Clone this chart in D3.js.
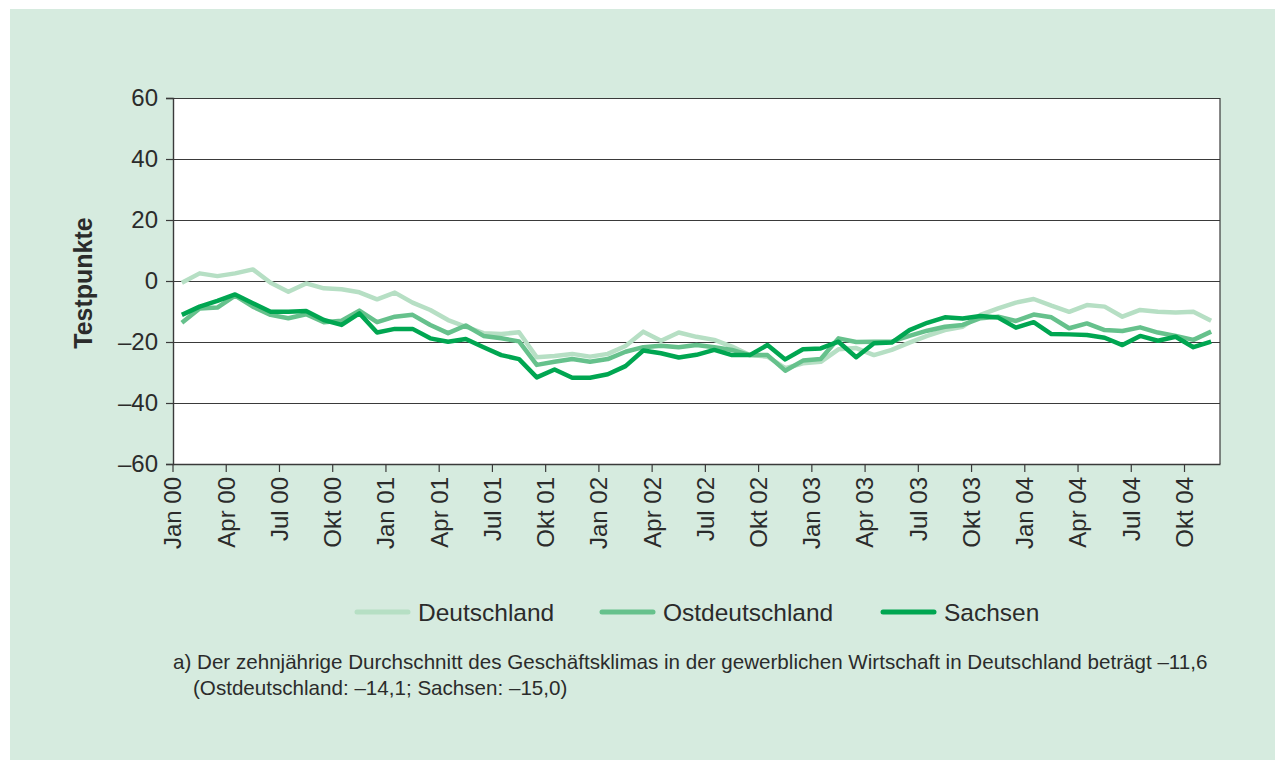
<!DOCTYPE html>
<html lang="de">
<head>
<meta charset="UTF-8" />
<title>Geschäftsklima</title>
<script src="https://cdn.jsdelivr.net/npm/d3@7/dist/d3.min.js"></script>
<style>
  body { margin: 0; background: #fff; }
  svg text { font-family: "Liberation Sans", Arial, Helvetica, sans-serif; fill: #2b2b2b; }
</style>
</head>
<body>
<svg class="svg" width="1281" height="765"></svg>
<script>
// Monate Jan 00 .. Nov 04
const years = ['00', '01', '02', '03', '04'];
const monthNames = ['Jan', 'Feb', 'Mär', 'Apr', 'Mai', 'Jun', 'Jul', 'Aug', 'Sep', 'Okt', 'Nov', 'Dez'];
const months = [];
years.forEach(y => monthNames.forEach(m => months.push(m + ' ' + y)));
months.length = 59;

const yTicks = [-60, -40, -20, 0, 20, 40, 60];

const deutschland = [
  -0.6, 2.5, 1.6, 2.5, 3.8, -0.6, -3.5, -0.8, -2.4, -2.7, -3.7, -6,
  -3.8, -7.1, -9.5, -12.8, -15, -17.1, -17.4, -16.8, -25, -24.6, -23.9, -24.8,
  -23.9, -21.3, -16.6, -19.6, -16.9, -18.3, -19.3, -21.5, -24.3, -24.8, -28.6, -27,
  -26.5, -22.4, -22, -24.3, -22.6, -20.2, -18, -16.1, -15, -11.1, -9, -7.1,
  -5.9, -8.1, -10.1, -7.9, -8.4, -11.7, -9.5, -10.1, -10.3, -10.1, -13
];
const ostdeutschland = [
  -13.7, -9, -8.7, -4.8, -8.4, -11.1, -12.2, -10.9, -13.5, -13, -9.7, -13.5,
  -11.7, -11.1, -14.4, -17.1, -14.6, -18, -18.8, -19.8, -27.5, -26.5, -25.6, -26.5,
  -25.6, -23.2, -21.7, -21.2, -21.7, -21, -21.7, -22.6, -24.3, -24.3, -29.4, -26.1,
  -25.6, -18.8, -20, -19.9, -19.9, -18, -16.3, -15, -14.4, -12.2, -11.7, -13.1,
  -11, -11.9, -15.5, -13.9, -16.1, -16.4, -15.2, -16.9, -18, -19.3, -16.6
];
const sachsen = [
  -11.1, -8.4, -6.5, -4.4, -7.3, -10.1, -10.1, -9.8, -12.8, -14.4, -10.6, -16.9,
  -15.7, -15.7, -18.8, -19.9, -19, -21.7, -24.3, -25.6, -31.6, -29, -31.7, -31.7,
  -30.6, -27.9, -22.8, -23.7, -25.1, -24.2, -22.6, -24.3, -24.3, -21, -25.7, -22.4,
  -22.1, -19.9, -25, -20.4, -20.2, -16.1, -13.7, -11.9, -12.3, -11.5, -12, -15.3,
  -13.5, -17.4, -17.5, -17.7, -18.6, -21, -18, -19.6, -18.3, -21.7, -19.9
];

const series = [
  { name: 'Deutschland', values: deutschland, color: '#b6dfc4', width: 4.5 },
  { name: 'Ostdeutschland', values: ostdeutschland, color: '#66c18c', width: 4.5 },
  { name: 'Sachsen', values: sachsen, color: '#00a651', width: 4.5 }
];

const svg = d3.select('.svg');

// Hintergrund
svg.append('rect')
  .attr('x', 10).attr('y', 9)
  .attr('width', 1265).attr('height', 751)
  .attr('fill', '#d6ebdf');

const plotLeft = 173, plotRight = 1220, plotTop = 98, plotBottom = 464;

const x = d3.scaleBand().domain(months).range([plotLeft, plotRight]).padding(0);
const y = d3.scaleLinear().domain([-60, 60]).range([plotBottom, plotTop]);

const fmt = v => (v < 0 ? '\u2013' + Math.abs(v) : String(v));

svg.append('rect')
  .attr('x', plotLeft).attr('y', plotTop)
  .attr('width', plotRight - plotLeft).attr('height', plotBottom - plotTop)
  .attr('fill', '#fff');

// Gitterlinien
const grid = svg.append('g')
  .attr('transform', `translate(${plotLeft},0)`)
  .call(d3.axisLeft(y).tickValues(yTicks).tickSize(-(plotRight - plotLeft)).tickFormat(''));
grid.select('.domain').remove();
grid.selectAll('line').attr('stroke', '#3a3a3a').attr('stroke-width', 1.2);

svg.append('line')
  .attr('x1', plotRight).attr('x2', plotRight).attr('y1', plotTop).attr('y2', plotBottom)
  .attr('stroke', '#3a3a3a').attr('stroke-width', 1.2);

// y-Achse
const yAxis = svg.append('g')
  .attr('transform', `translate(${plotLeft},0)`)
  .call(d3.axisLeft(y).tickValues(yTicks).tickSize(7).tickPadding(8).tickFormat(fmt));
yAxis.select('.domain').attr('stroke', '#3a3a3a').attr('stroke-width', 1.4);
yAxis.selectAll('line').attr('stroke', '#3a3a3a').attr('stroke-width', 1.2);
yAxis.selectAll('text').style('font-size', '24px').attr('fill', '#2b2b2b');

// x-Achse
const tickMonths = months.filter((m, i) => i % 3 === 0);
const xAxis = svg.append('g')
  .attr('transform', `translate(0,${plotBottom})`)
  .call(d3.axisBottom(x).tickValues(tickMonths).tickSize(8).tickSizeOuter(0));
xAxis.select('.domain').attr('stroke', '#3a3a3a').attr('stroke-width', 1.4);
xAxis.selectAll('.tick').attr('transform', d => `translate(${x(d)},0)`);
xAxis.selectAll('line').attr('stroke', '#3a3a3a').attr('stroke-width', 1.2);
xAxis.selectAll('text')
  .style('font-size', '24px')
  .attr('fill', '#2b2b2b')
  .attr('text-anchor', 'end')
  .attr('transform', 'rotate(-90)')
  .attr('x', -13).attr('y', 0).attr('dy', '0.35em');

svg.append('text')
  .attr('transform', `translate(92,${y(0) + 2}) rotate(-90)`)
  .attr('text-anchor', 'middle')
  .style('font-size', '25px')
  .style('font-weight', 'bold')
  .text('Testpunkte');

// Linien
const line = d3.line()
  .x((d, i) => x(months[i]) + x.bandwidth() / 2)
  .y(d => y(d));

svg.append('g').selectAll('path')
  .data(series)
  .enter()
  .append('path')
  .attr('d', s => line(s.values))
  .attr('fill', 'none')
  .attr('stroke', s => s.color)
  .attr('stroke-width', s => s.width)
  .attr('stroke-linejoin', 'round');

// Legende
const legendX = [357, 602, 883];
const legend = svg.append('g').selectAll('g')
  .data(series)
  .enter()
  .append('g')
  .attr('transform', (s, i) => `translate(${legendX[i]},612)`);
legend.append('line')
  .attr('x1', 0).attr('x2', 51)
  .attr('stroke', s => s.color)
  .attr('stroke-width', 5)
  .attr('stroke-linecap', 'round');
legend.append('text')
  .attr('x', 61).attr('dy', '0.35em')
  .style('font-size', '24.5px')
  .text(s => s.name);

// Fußnote
svg.append('text')
  .attr('x', 173).attr('y', 669)
  .style('font-size', '20.6px')
  .text('a) Der zehnjährige Durchschnitt des Geschäftsklimas in der gewerblichen Wirtschaft in Deutschland beträgt \u201311,6');
svg.append('text')
  .attr('x', 193).attr('y', 695)
  .style('font-size', '20.6px')
  .text('(Ostdeutschland: \u201314,1; Sachsen: \u201315,0)');
</script>
</body>
</html>
